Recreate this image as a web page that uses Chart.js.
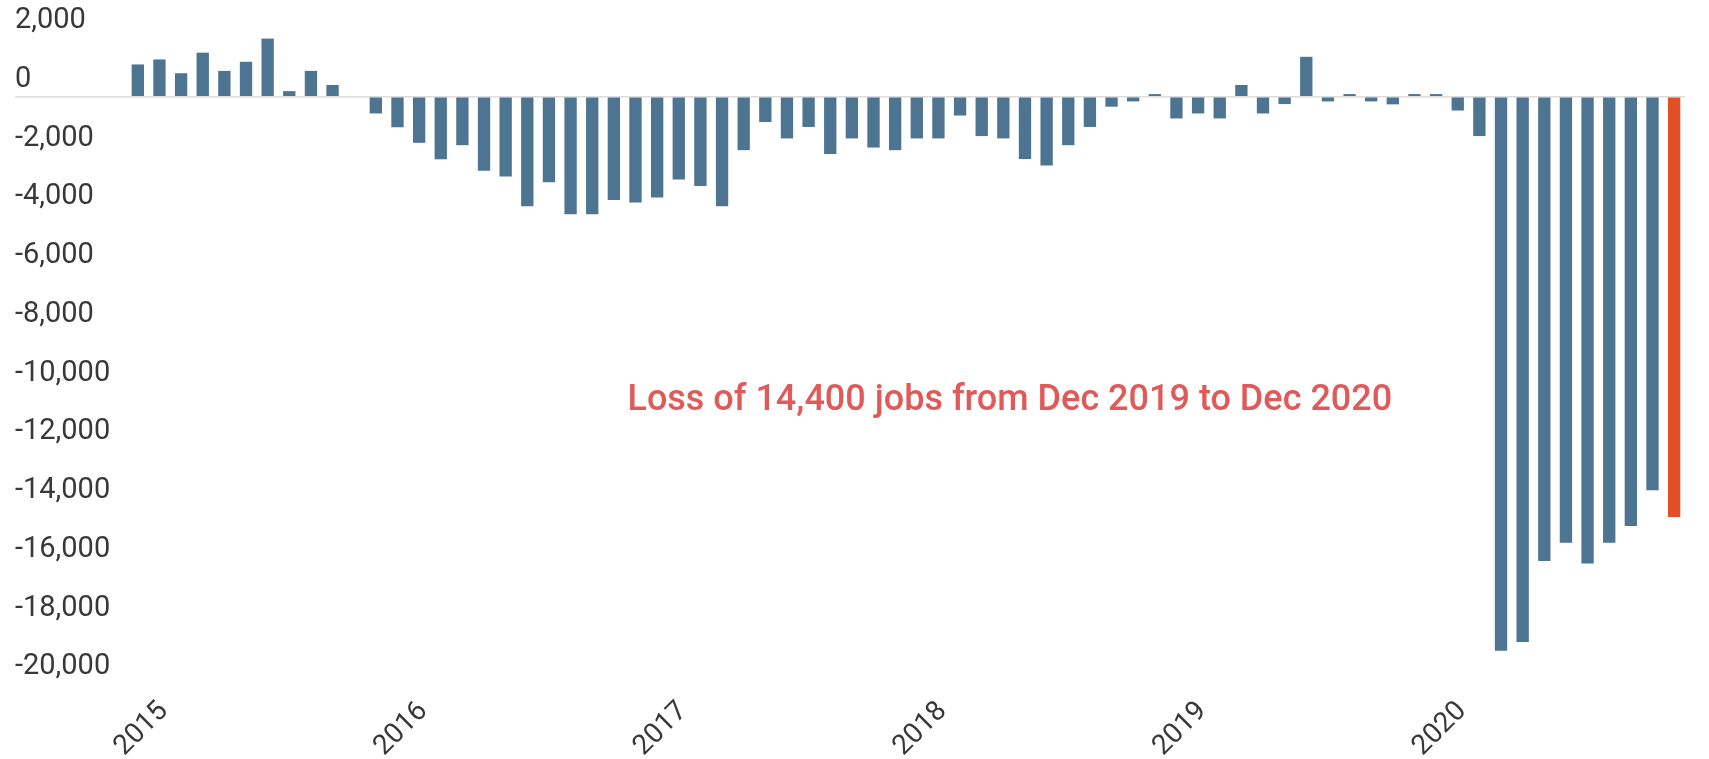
<!DOCTYPE html>
<html>
<head>
<meta charset="utf-8">
<script src="https://cdn.jsdelivr.net/npm/chart.js@4.4.1/dist/chart.umd.min.js"></script>
<style>
  html, body { margin: 0; padding: 0; background: #ffffff; }
  #wrap { width: 1709px; height: 759px; position: relative; }
</style>
</head>
<body>
<div id="wrap"><canvas id="chart"></canvas></div>
<script>
// ---- Data ----
const years  = ['2015', '2016', '2017', '2018', '2019', '2020'];
const months = ['Jan', 'Feb', 'Mar', 'Apr', 'May', 'Jun', 'Jul', 'Aug', 'Sep', 'Oct', 'Nov', 'Dec'];

const jobs2015 = [1100, 1270, 800, 1500, 880, 1190, 1980, 190, 880, 400, 0, -570];
const jobs2016 = [-1040, -1570, -2130, -1650, -2520, -2720, -3730, -2910, -4000, -4000, -3520, -3600];
const jobs2017 = [-3430, -2820, -3040, -3730, -1820, -860, -1420, -1030, -1950, -1420, -1730, -1820];
const jobs2018 = [-1420, -1420, -640, -1340, -1420, -2120, -2340, -1650, -1030, -340, -160, 90];
const jobs2019 = [-740, -570, -740, 400, -570, -250, 1360, -160, 90, -160, -260, 90];
const jobs2020 = [90, -470, -1340, -18870, -18570, -15810, -15190, -15900, -15190, -14620, -13400, -14310];

const yTickValues = [2000, 0, -2000, -4000, -6000, -8000, -10000, -12000, -14000, -16000, -18000, -20000];
const annotationText = 'Loss of 14,400 jobs from Dec 2019 to Dec 2020';

// ---- Derived structures ----
const categories = years.flatMap(y => months.map(m => m + ' ' + y));
const values = [...jobs2015, ...jobs2016, ...jobs2017, ...jobs2018, ...jobs2019, ...jobs2020];

const BAR_BLUE = '#4d7592';
const BAR_RED = '#e24f27';
const TEXT_COLOR = '#383838';
const ZERO_LINE = '#dcdcdc';

const annotationPlugin = {
  id: 'lossNote',
  afterDatasetsDraw(chart) {
    const { ctx, scales: { x, y } } = chart;
    ctx.save();
    ctx.font = '500 36px Roboto';
    ctx.fillStyle = '#df5a59';
    ctx.textAlign = 'center';
    ctx.textBaseline = 'middle';
    ctx.fillText(annotationText, x.getPixelForValue(40.3), y.getPixelForValue(-10350));
    ctx.restore();
  }
};

const zeroColor = ctx => (ctx.tick && ctx.tick.value === 0) ? ZERO_LINE : 'rgba(0,0,0,0)';

new Chart(document.getElementById('chart'), {
  type: 'bar',
  data: {
    labels: categories,
    datasets: [{
      data: values,
      backgroundColor: ctx => ctx.dataIndex === values.length - 1 ? BAR_RED : BAR_BLUE,
      borderWidth: 0,
      barPercentage: 0.57,
      categoryPercentage: 1.0
    }]
  },
  options: {
    responsive: true,
    maintainAspectRatio: false,
    animation: false,
    layout: { padding: { left: 15, right: 16, top: 38, bottom: 0 } },
    plugins: {
      legend: { display: false },
      tooltip: { enabled: false }
    },
    scales: {
      x: {
        grid: { display: false, drawTicks: false },
        border: { display: false },
        ticks: {
          autoSkip: false,
          minRotation: 45,
          maxRotation: 45,
          padding: 11,
          labelOffset: 26,
          color: TEXT_COLOR,
          font: { family: 'Roboto', size: 28 },
          callback: (v, i) => (i % 12 === 0 ? categories[i].slice(-4) : '')
        },
        afterFit: s => { s.height = 75; }
      },
      y: {
        min: -20000,
        max: 2000,
        afterBuildTicks: s => { s.ticks = yTickValues.map(v => ({ value: v })); },
        grid: {
          color: zeroColor,
          tickColor: zeroColor,
          lineWidth: 1.5,
          drawTicks: true,
          tickLength: 112
        },
        border: { display: false },
        ticks: {
          crossAlign: 'far',
          labelOffset: -17,
          padding: 0,
          color: TEXT_COLOR,
          font: { family: 'Roboto', size: 29 },
          callback: v => Number(v).toLocaleString('en-US')
        },
        afterFit: s => { s.width = 112; }
      }
    }
  },
  plugins: [annotationPlugin]
});
</script>
</body>
</html>
